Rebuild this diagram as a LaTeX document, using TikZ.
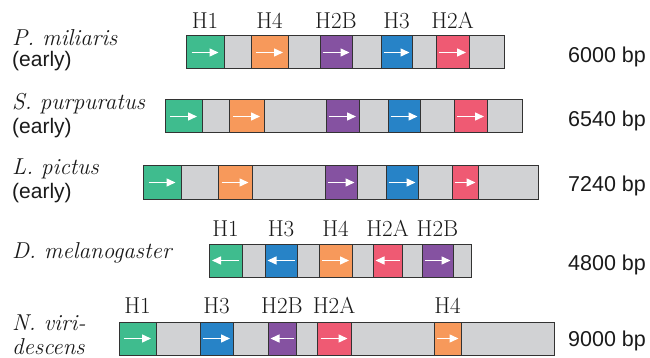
\documentclass[tikz,border=0pt]{standalone}
\usepackage{fontspec}
\newfontfamily\sansf{Liberation Sans}
\usetikzlibrary{arrows.meta}
\definecolor{cgreen}{HTML}{3FBC8E}
\definecolor{corange}{HTML}{F7995B}
\definecolor{cpurple}{HTML}{8552A1}
\definecolor{cblue}{HTML}{2783C7}
\definecolor{cred}{HTML}{EF5A73}
\definecolor{cgray}{HTML}{D1D2D4}
\definecolor{cborder}{HTML}{333333}
\definecolor{ctext}{HTML}{1A1A1A}
\tikzset{
  barbox/.style={draw=cborder, fill=cgray, line width=1pt, inner sep=0pt, outer sep=0pt, minimum height=33pt},
  genebox/.style={draw=cborder, line width=1pt, inner sep=0pt, outer sep=0pt, minimum height=33pt},
  garrow/.style={draw=white, line width=1.5pt, -{Triangle[length=9pt,width=8pt]}},
  hlab/.style={font=\fontsize{23}{27}\selectfont, text=ctext, inner sep=0pt, anchor=base},
  species/.style={font=\fontsize{23}{27}\selectfont\itshape, text=ctext, inner sep=0pt, anchor=base west},
  early/.style={font=\sansf\fontsize{21}{25}\selectfont, text=ctext, inner sep=0pt, anchor=base west},
  bplab/.style={font=\sansf\fontsize{21.5}{25}\selectfont, text=ctext, inner sep=0pt, anchor=base west}
}
% #1 name, #2 x-left, #3 x-right, #4 top y, #5 colour, #6 direction (1 right, -1 left)
\newcommand\mygene[6]{%
  \node[genebox, fill=#5, minimum width={#3-#2}, anchor=north west] (#1) at (#2,#4) {};
  \pgfmathsetmacro\halfarrow{min(27,#3-#2-5)/2}%
  \ifnum#6>0
    \draw[garrow] ([xshift=-\halfarrow pt]#1.center) -- ([xshift=\halfarrow pt]#1.center);
  \else
    \draw[garrow] ([xshift=\halfarrow pt]#1.center) -- ([xshift=-\halfarrow pt]#1.center);
  \fi
}
% #1 name, #2 x-left, #3 x-right, #4 top y
\newcommand\mybar[4]{%
  \node[barbox, minimum width={#3-#2}, anchor=north west] (#1) at (#2,#4) {};
}
\begin{document}
\begin{tikzpicture}[x=1pt,y=-1pt]
\useasboundingbox (0,0) rectangle (650,358);

% Row 1: P. miliaris
\node[species] (sp1) at (12,46) {P. miliaris};
\node[early] (e1) at (12,67) {(early)};
\mybar{bar1}{186}{504}{36}
\mygene{r1a}{186}{224}{36}{cgreen}{1}
\mygene{r1b}{251}{288}{36}{corange}{1}
\mygene{r1c}{320}{352}{36}{cpurple}{1}
\mygene{r1d}{381}{412}{36}{cblue}{1}
\mygene{r1e}{436}{469}{36}{cred}{1}
\node[hlab] (t1a) at ([yshift=7pt]r1a.north) {H1};
\node[hlab] (t1b) at ([yshift=7pt]r1b.north) {H4};
\node[hlab] (t1c) at ([yshift=7pt]r1c.north) {H2B};
\node[hlab] (t1d) at ([yshift=7pt]r1d.north) {H3};
\node[hlab] (t1e) at ([yshift=7pt]r1e.north) {H2A};
\node[bplab] (bp1) at (568,62.7) {6000 bp};

% Row 2: S. purpuratus
\node[species] (sp2) at (12,110) {S. purpuratus};
\node[early] (e2) at (12,134) {(early)};
\mybar{bar2}{165}{522}{100}
\mygene{r2a}{165}{202}{100}{cgreen}{1}
\mygene{r2b}{229}{264}{100}{corange}{1}
\mygene{r2c}{326}{359}{100}{cpurple}{1}
\mygene{r2d}{388}{420}{100}{cblue}{1}
\mygene{r2e}{454}{487}{100}{cred}{1}
\node[bplab] (bp2) at (568,126.7) {6540 bp};

% Row 3: L. pictus
\node[species] (sp3) at (12,175) {L. pictus};
\node[early] (e3) at (12,199) {(early)};
\mybar{bar3}{143}{538}{166}
\mygene{r3a}{143}{181}{166}{cgreen}{1}
\mygene{r3b}{218}{252}{166}{corange}{1}
\mygene{r3c}{325}{357}{166}{cpurple}{1}
\mygene{r3d}{386}{418}{166}{cblue}{1}
\mygene{r3e}{452}{478}{166}{cred}{1}
\node[bplab] (bp3) at (568,191.7) {7240 bp};

% Row 4: D. melanogaster
\node[species] (sp4) at (12,258) {D. melanogaster};
\mybar{bar4}{209}{471}{244}
\mygene{r4a}{209}{242}{244}{cgreen}{-1}
\mygene{r4b}{265}{297}{244}{cblue}{-1}
\mygene{r4c}{319}{352}{244}{corange}{1}
\mygene{r4d}{373}{402}{244}{cred}{-1}
\mygene{r4e}{422}{453}{244}{cpurple}{1}
\node[hlab] (t4a) at ([yshift=8pt]r4a.north) {H1};
\node[hlab] (t4b) at ([yshift=8pt]r4b.north) {H3};
\node[hlab] (t4c) at ([yshift=8pt]r4c.north) {H4};
\node[hlab] (t4d) at ([yshift=8pt]r4d.north) {H2A};
\node[hlab] (t4e) at ([yshift=8pt]r4e.north) {H2B};
\node[bplab] (bp4) at (568,270) {4800 bp};

% Row 5: N. viridescens
\node[species] (sp5) at (12,330) {N. viri-};
\node[species] (sp5b) at (12,354.5) {descens};
\mybar{bar5}{119}{554}{322}
\mygene{r5a}{119}{156}{322}{cgreen}{1}
\mygene{r5b}{200}{233}{322}{cblue}{1}
\mygene{r5c}{268}{296}{322}{cpurple}{-1}
\mygene{r5d}{317}{351}{322}{cred}{1}
\mygene{r5e}{434}{461}{322}{corange}{1}
\node[hlab] (t5a) at ([yshift=9pt]r5a.north) {H1};
\node[hlab] (t5b) at ([yshift=9pt]r5b.north) {H3};
\node[hlab] (t5c) at ([yshift=9pt]r5c.north) {H2B};
\node[hlab] (t5d) at ([yshift=9pt]r5d.north) {H2A};
\node[hlab] (t5e) at ([yshift=9pt]r5e.north) {H4};
\node[bplab] (bp5) at (568,346.7) {9000 bp};
\end{tikzpicture}
\end{document}
